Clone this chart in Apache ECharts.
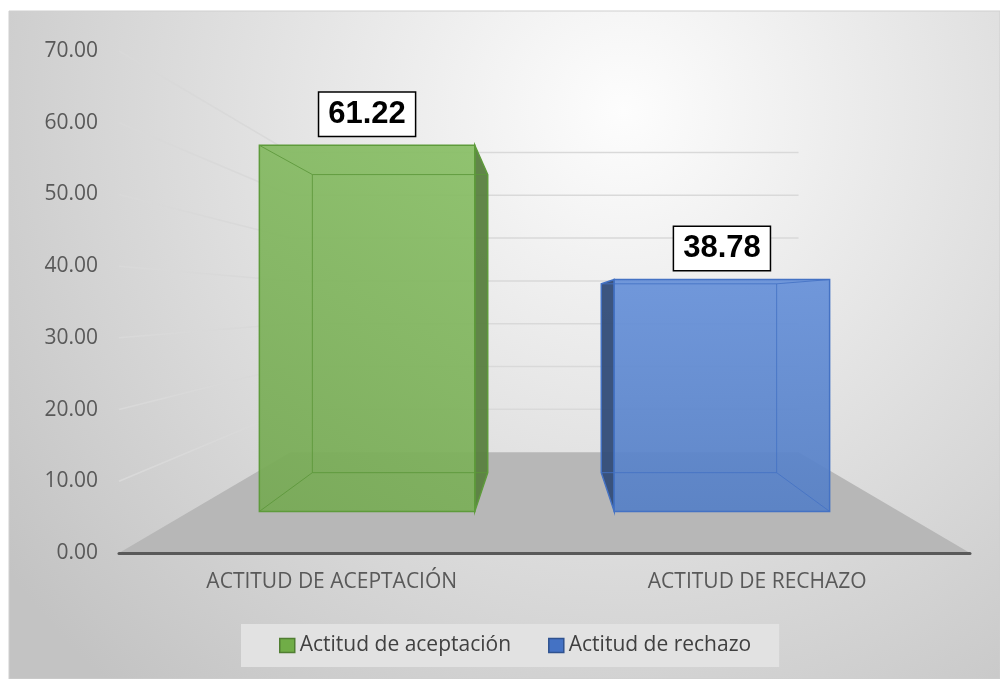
<!DOCTYPE html>
<html>
<head>
<meta charset="utf-8">
<script src="https://cdn.jsdelivr.net/npm/echarts@6/dist/echarts.min.js"></script>
<style>
html, body { margin: 0; padding: 0; background: #fff; }
#chart { width: 1000px; height: 679px; }
</style>
</head>
<body>
<div id="chart"></div>
<script>
const categories = ['ACTITUD DE ACEPTACIÓN', 'ACTITUD DE RECHAZO'];
const seriesNames = ['Actitud de aceptación', 'Actitud de rechazo'];
const values = [61.22, 38.78];
const yMin = 0, yMax = 70, yStep = 10;

// perspective of the excel 3d look
const EYE = 34.9;        // horizon, in axis units
const R_FRONT = 0.834;   // bar front face depth
const R_BACK = 0.679;    // bar back face depth
const R_WALL = 0.597;    // back wall depth
const BAR_RATIO = 0.607; // bar width / band width

const looks = [
  { fill: ['#76a954', '#89bf66'], dir: [0, 1, 1, 0], side: '#587f3f', edge: '#5e9b3b', inner: 'rgba(92,150,58,0.85)', legend: '#70ad47', legendBorder: '#507e32' },
  { fill: ['#6791d9', '#5680c6'], dir: [0, 0, 0, 1], side: '#314c78', edge: '#4472c4', inner: 'rgba(68,114,196,0.85)', legend: '#4472c4', legendBorder: '#2f528f' }
];

let myChart = echarts.init(document.getElementById('chart'));

const project = (vp, p, r) => [vp[0] + (p[0] - vp[0]) * r, vp[1] + (p[1] - vp[1]) * r];

const renderWalls = (params, api) => {
  const cs = params.coordSys;
  const vp = [cs.x + cs.width / 2, api.coord([0, EYE])[1]];
  const baseY = api.coord([0, 0])[1];
  const x0 = cs.x, x1 = cs.x + cs.width;
  const bl = project(vp, [x0, baseY], R_WALL);
  const br = project(vp, [x1, baseY], R_WALL);
  const children = [{
    type: 'polygon',
    shape: { points: [[x0, baseY], [x1, baseY], br, bl] },
    style: { fill: '#b7b7b7' }
  }];
  for (let v = yMin + yStep; v <= yMax; v += yStep) {
    const y = api.coord([0, v])[1];
    const a = project(vp, [x0, y], R_WALL);
    const b = project(vp, [x1, y], R_WALL);
    children.push({ type: 'line', shape: { x1: a[0], y1: a[1], x2: b[0], y2: b[1] }, style: { stroke: '#d9d9d9', lineWidth: 1.5 } });
    children.push({ type: 'line', shape: { x1: x0, y1: y, x2: a[0], y2: a[1] }, style: { stroke: '#d9d9d9', lineWidth: 1.5 } });
  }
  return { type: 'group', children: children };
};

const makeBarRenderer = (look) => (params, api) => {
  const cs = params.coordSys;
  const vp = [cs.x + cs.width / 2, api.coord([0, EYE])[1]];
  const val = api.value(1);
  const top = api.coord([api.value(0), val]);
  const base = api.coord([api.value(0), 0]);
  const half = api.size([1, 0])[0] * BAR_RATIO / 2;
  const xl = top[0] - half, xr = top[0] + half;
  const corners = [[xl, top[1]], [xr, top[1]], [xr, base[1]], [xl, base[1]]];
  const F = corners.map(p => project(vp, p, R_FRONT));
  const B = corners.map(p => project(vp, p, R_BACK));
  const leftOfEye = top[0] < vp[0];
  // visible side face and hidden edges seen through the glass
  const side = leftOfEye ? [F[1], B[1], B[2], F[2]] : [F[0], B[0], B[3], F[3]];
  const hidden = leftOfEye
    ? [[B[0], B[1]], [B[0], B[3]], [B[3], B[2]], [F[0], B[0]], [F[3], B[3]]]
    : [[B[0], B[1]], [B[1], B[2]], [B[3], B[2]], [F[1], B[1]], [F[2], B[2]]];
  const d = look.dir;
  const children = [
    {
      type: 'polygon',
      shape: { points: F },
      style: {
        fill: new echarts.graphic.LinearGradient(d[0], d[1], d[2], d[3], [
          { offset: 0, color: look.fill[0] }, { offset: 1, color: look.fill[1] }
        ]),
        opacity: 0.93
      }
    },
    { type: 'polygon', shape: { points: side }, style: { fill: look.side, opacity: 0.95 } }
  ];
  hidden.forEach(seg => {
    children.push({ type: 'line', shape: { x1: seg[0][0], y1: seg[0][1], x2: seg[1][0], y2: seg[1][1] }, style: { stroke: look.inner, lineWidth: 1 } });
  });
  children.push({ type: 'polygon', shape: { points: side }, style: { fill: null, stroke: look.edge, lineWidth: 1.5 } });
  children.push({ type: 'polygon', shape: { points: F }, style: { fill: null, stroke: look.edge, lineWidth: 1.5 } });
  const lp = project(vp, top, R_FRONT);
  children.push({
    type: 'text',
    style: {
      text: val.toFixed(2),
      x: lp[0], y: lp[1] - 31,
      align: 'center', verticalAlign: 'middle',
      font: 'bold 31px "Liberation Sans", Arial, sans-serif',
      fill: '#000',
      backgroundColor: '#fff',
      borderColor: '#000',
      borderWidth: 1.5,
      padding: [6, 9, 6, 9]
    }
  });
  return { type: 'group', children: children };
};

let option = {
  animation: false,
  graphic: [{
    type: 'rect',
    z: -10,
    silent: true,
    shape: { x: 9, y: 11, width: 991, height: 668 },
    style: {
      fill: new echarts.graphic.RadialGradient(0.62, 0.15, 1.15, [
        { offset: 0, color: '#fdfdfd' }, { offset: 1, color: '#c3c3c3' }
      ]),
      stroke: '#cfcfcf',
      lineWidth: 1
    }
  }],
  grid: { left: 119, right: 30, top: 51, bottom: 126 },
  xAxis: {
    type: 'category',
    data: categories,
    z: 10,
    axisTick: { show: false },
    axisLine: { lineStyle: { color: '#595959', width: 3 } },
    axisLabel: { fontSize: 21, color: '#595959', fontFamily: 'Open Sans', margin: 19 }
  },
  yAxis: {
    type: 'value',
    min: yMin,
    max: yMax,
    interval: yStep,
    axisLine: { show: false },
    axisTick: { show: false },
    splitLine: { show: false },
    axisLabel: {
      fontSize: 21, color: '#595959', fontFamily: 'Open Sans', margin: 21,
      formatter: v => v.toFixed(2)
    }
  },
  legend: {
    left: 241,
    top: 624,
    padding: [11, 28, 11, 38],
    itemGap: 37,
    itemWidth: 15,
    itemHeight: 14,
    icon: 'rect',
    backgroundColor: '#e2e2e2',
    textStyle: { fontSize: 21, color: '#404040', fontFamily: 'Open Sans' },
    data: seriesNames.map((n, i) => ({
      name: n,
      itemStyle: { color: looks[i].legend, borderColor: looks[i].legendBorder, borderWidth: 1.5 }
    }))
  },
  series: [
    {
      type: 'custom',
      name: 'walls',
      silent: true,
      clip: false,
      z: 1,
      renderItem: renderWalls,
      data: [[0, 0]]
    }
  ].concat(values.map((v, i) => ({
    type: 'custom',
    name: seriesNames[i],
    clip: false,
    z: 2,
    itemStyle: { color: looks[i].legend },
    encode: { x: 0, y: 1 },
    renderItem: makeBarRenderer(looks[i]),
    data: [[i, v]]
  })))
};

myChart.setOption(option);
window.addEventListener('resize', function () {
  myChart && myChart.resize();
});
</script>
</body>
</html>
